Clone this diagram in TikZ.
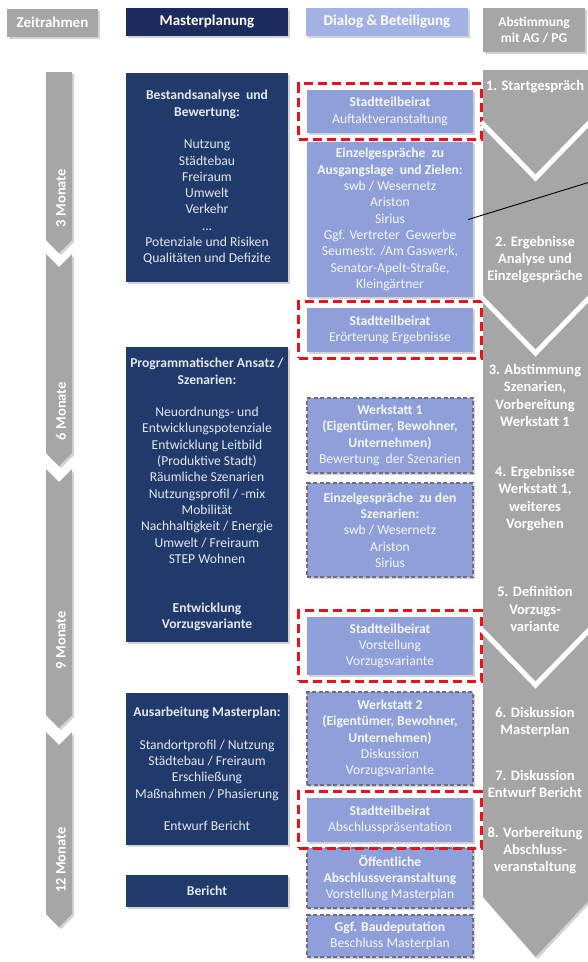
\documentclass[tikz,border=0pt]{standalone}
\usepackage{fontspec}
\setmainfont{Carlito}
\usepackage{tikz}
\usetikzlibrary{positioning}
\usetikzlibrary{fit}
\usetikzlibrary{shadows}
\usepackage{xcolor}
\definecolor{navy}{HTML}{1F3A6B}
\definecolor{navyhead}{HTML}{1C2A5E}
\definecolor{dialog}{HTML}{8E9FD9}
\definecolor{dialoghead}{HTML}{A3B2E4}
\definecolor{frame}{HTML}{A6A6A6}
\definecolor{beirat}{HTML}{E8121C}
\definecolor{dashgray}{HTML}{6E6E80}

\begin{document}
\begin{tikzpicture}[x=1pt, y=-1pt,
    shade/.style={drop shadow={shadow xshift=2pt, shadow yshift=-2pt, opacity=0.35}},
    txt/.style={font=\fontsize{13.6}{16.3}\selectfont, align=center, inner sep=0},
    head/.style={shade, inner sep=0, minimum height=28, text=white, font=\fontsize{15}{16}\selectfont\bfseries, align=center},
    plan/.style={txt, shade, fill=navy, text=white!88!navy, minimum width=162},
    talk/.style={txt, shade, fill=dialog, text=white!92!dialog, minimum width=166},
    workshop/.style={talk, draw=dashgray, line width=1.6pt, dash pattern=on 4pt off 2.5pt},
    beiratframe/.style={draw=beirat, line width=2.8pt, dash pattern=on 9pt off 5pt, inner xsep=8, inner ysep=6},
    month/.style={rotate=90, text=white, font=\fontsize{14.5}{16}\selectfont\bfseries},
    stage/.style={text=white, align=center, font=\fontsize{14.5}{17.3}\selectfont\bfseries}]
  \useasboundingbox (0,0) rectangle (587,962);

  % column heads
  \node[head, fill=frame, minimum width=91] (zeit) at (52.5,22.5) {Zeitrahmen};
  \node[head, fill=navyhead, minimum width=162] (master) at (207,22) {Masterplanung};
  \node[head, fill=dialoghead, minimum width=162] (dialoghd) at (387,22) {Dialog \& Beteiligung};
  \node[head, fill=frame, minimum width=102, minimum height=44, font=\fontsize{13.5}{16}\selectfont\bfseries] (abst) at (534,30) {Abstimmung\\mit AG / PG};

  % time line
  \fill[frame, shade] (46,72) -- (72,72) -- (72,240) -- (59,253) -- (46,240) -- cycle;
  \fill[frame, shade] (46,254) -- (59,267) -- (72,254) -- (72,453) -- (59,466) -- (46,453) -- cycle;
  \fill[frame, shade] (46,469) -- (59,482) -- (72,469) -- (72,715) -- (59,728) -- (46,715) -- cycle;
  \fill[frame, shade] (46,732) -- (59,745) -- (72,732) -- (72,914) -- (59,927) -- (46,914) -- cycle;
  \node[month] (m3) at (61,198) {3 Monate};
  \node[month] (m6) at (61,411) {6 Monate};
  \node[month] (m9) at (61,640) {9 Monate};
  \node[month] (m12) at (61,860) {12 Monate};

  % Masterplanung
  \node[plan, minimum height=209] (plan1) at (207,177.5) {\textbf{Bestandsanalyse\ \ und}\\\textbf{Bewertung:}\\[16.3pt]
    Nutzung\\Städtebau\\Freiraum\\Umwelt\\Verkehr\\...\\Potenziale und Risiken\\Qualitäten und Defizite};
  \node[plan, minimum height=295] (plan2) at (207,494.5) {\textbf{Programmatischer Ansatz /}\\\textbf{Szenarien:}\\[16.3pt]
    Neuordnungs- und\\Entwicklungspotenziale\\Entwicklung Leitbild\\(Produktive Stadt)\\Räumliche Szenarien\\
    Nutzungsprofil / -mix\\Mobilität\\Nachhaltigkeit / Energie\\Umwelt\ / Freiraum\\STEP\ Wohnen\\[32.6pt]
    \textbf{Entwicklung}\\\textbf{Vorzugsvariante}};
  \node[plan, minimum height=152] (plan3) at (207,769) {\textbf{Ausarbeitung Masterplan:}\\[16.3pt]
    Standortprofil / Nutzung\\Städtebau / Freiraum\\Erschließung\\Maßnahmen / Phasierung\\[16.3pt]Entwurf Bericht};
  \node[plan, minimum height=32] (plan4) at (207,891) {\textbf{Bericht}};

  % Dialog & Beteiligung
  \node[talk, minimum height=43] (beirat1) at (390,111.5) {\textbf{Stadtteilbeirat}\\Auftaktveranstaltung};
  \node[talk, minimum height=155] (einzel1) at (390,219.5) {\textbf{Einzelgespräche\ \ zu}\\\textbf{Ausgangslage\ \ und Zielen:}\\
    swb / Wesernetz\\Ariston\\Sirius\\Ggf. Vertreter\ \ Gewerbe\\Seumestr. /Am Gaswerk,\\Senator-Apelt-Straße,\\Kleingärtner};
  \node[talk, minimum height=44] (beirat2) at (390,330) {\textbf{Stadtteilbeirat}\\Erörterung Ergebnisse};
  \node[workshop, minimum height=75] (werk1) at (390,435.5) {\textbf{Werkstatt 1}\\\textbf{(Eigentümer, Bewohner,}\\\textbf{Unternehmen)}\\Bewertung\ \ der Szenarien};
  \node[workshop, minimum height=94] (einzel2) at (390,530) {\textbf{Einzelgespräche\ \ zu den}\\\textbf{Szenarien:}\\swb / Wesernetz\\Ariston\\Sirius};
  \node[talk, minimum height=58] (beirat3) at (390,646) {\textbf{Stadtteilbeirat}\\Vorstellung\\Vorzugsvariante};
  \node[workshop, minimum height=93] (werk2) at (390,738.5) {\textbf{Werkstatt 2}\\\textbf{(Eigentümer, Bewohner,}\\\textbf{Unternehmen)}\\Diskussion\\Vorzugsvariante};
  \node[workshop, minimum height=60] (oeff) at (390,878) {\textbf{Öffentliche}\\\textbf{Abschlussveranstaltung}\\Vorstellung Masterplan};
  \node[talk, minimum height=44] (beirat4) at (390,820) {\textbf{Stadtteilbeirat}\\Abschlusspräsentation};
  \node[workshop, minimum height=42] (baudep) at (390,936) {\textbf{Ggf. Baudeputation}\\Beschluss Masterplan};

  \node[beiratframe, fit=(beirat1)] (rot1) {};
  \node[beiratframe, fit=(beirat2)] (rot2) {};
  \node[beiratframe, fit=(beirat3)] (rot3) {};
  \node[beiratframe, fit=(beirat4)] (rot4) {};

  % Abstimmung mit AG / PG
  \fill[frame, shade] (483,70) -- (592,70) -- (592,897) -- (535.5,957) -- (483,897) -- cycle;
  \draw[white, line width=5pt] (481,122) -- (535.5,178) -- (590,122);
  \draw[white, line width=5pt] (481,297) -- (535.5,353) -- (590,297);
  \draw[white, line width=5pt] (481,629) -- (535.5,685) -- (590,629);
  \node[stage] (ab1) at (535,87) {1. Startgespräch};
  \node[stage] (ab2) at (535,259.5) {2. Ergebnisse\\Analyse und\\Einzelgespräche};
  \node[stage] (ab3) at (535,395.5) {3. Abstimmung\\Szenarien,\\Vorbereitung\\Werkstatt 1};
  \node[stage] (ab4) at (535,498.5) {4. Ergebnisse\\Werkstatt 1,\\weiteres\\Vorgehen};
  \node[stage] (ab5) at (535,609) {5. Definition\\Vorzugs-\\variante};
  \node[stage] (ab6) at (535,722) {6. Diskussion\\Masterplan};
  \node[stage] (ab7) at (535,784) {7. Diskussion\\Entwurf Bericht};
  \node[stage] (ab8) at (535,850.5) {8. Vorbereitung\\Abschluss-\\veranstaltung};

  \coordinate (linkend) at (590,182);
  \draw[line width=0.9pt] ([xshift=-5pt]einzel1.east) -- (linkend);
\end{tikzpicture}
\end{document}
